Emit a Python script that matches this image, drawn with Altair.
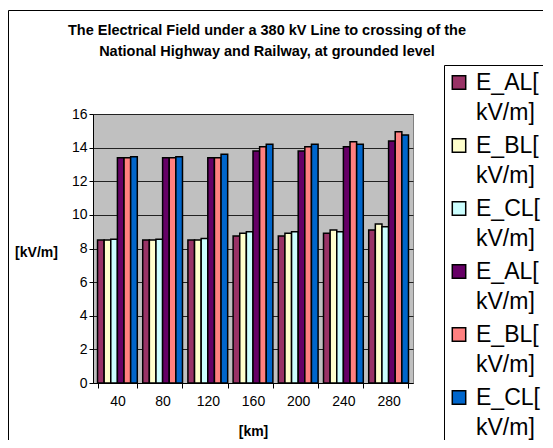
import altair as alt
import pandas as pd

# ---- data ----
km = ["40", "80", "120", "160", "200", "240", "280"]
series_keys = ["s1", "s2", "s3", "s4", "s5", "s6"]
series_labels = ["E_AL[\nkV/m]", "E_BL[\nkV/m]", "E_CL[\nkV/m]",
                 "E_AL[\nkV/m]", "E_BL[\nkV/m]", "E_CL[\nkV/m]"]
series_colors = ["#993366", "#FFFFCC", "#CCFFFF", "#660066", "#FF8080", "#0066CC"]

E_AL_1 = [8.5, 8.5, 8.5, 8.75, 8.75, 8.9, 9.1]
E_BL_1 = [8.5, 8.5, 8.5, 8.9, 8.9, 9.1, 9.45]
E_CL_1 = [8.55, 8.55, 8.6, 9.0, 9.0, 9.0, 9.3]
E_AL_2 = [13.4, 13.4, 13.4, 13.8, 13.8, 14.05, 14.4]
E_BL_2 = [13.4, 13.4, 13.4, 14.05, 14.05, 14.35, 14.95]
E_CL_2 = [13.45, 13.45, 13.6, 14.2, 14.2, 14.2, 14.75]
y_ticks = [0, 2, 4, 6, 8, 10, 12, 14, 16]
title_text = ("The Electrical Field under a 380 kV Line to crossing of the\n"
              "National Highway and Railway, at grounded level")

all_series = [E_AL_1, E_BL_1, E_CL_1, E_AL_2, E_BL_2, E_CL_2]
rows = []
for key, vals in zip(series_keys, all_series):
    for k, v in zip(km, vals):
        rows.append({"km": k, "key": key, "value": v})
df = pd.DataFrame(rows)
legend_df = pd.DataFrame({"key": series_keys, "label": series_labels})
one = pd.DataFrame({"a": [0]})
title_df = pd.DataFrame({"t": [title_text]})

color_scale = alt.Scale(domain=series_keys, range=series_colors)

frame = alt.Chart(one).mark_rect(fill="transparent", stroke="black", strokeWidth=1).encode(
    x=alt.value(-84.5), x2=alt.value(520), y=alt.value(-103.5), y2=alt.value(400)
)

title = alt.Chart(title_df).mark_text(
    align="center", baseline="middle", lineBreak="\n", lineHeight=21,
    fontSize=14.5, fontWeight="bold", font="Liberation Sans", color="black"
).encode(x=alt.value(174), y=alt.value(-83), text="t:N")

bars = alt.Chart(df).mark_bar(stroke="black", strokeWidth=1.5).encode(
    x=alt.X("km:N", sort=km,
            scale=alt.Scale(paddingInner=0.12, paddingOuter=0.1),
            axis=alt.Axis(title="[km]", labelAngle=0, tickBand="extent", tickSize=5,
                          labelPadding=6, titleX=160, titleY=48,
                          titleBaseline="middle", titleFontSize=14, titleFontWeight="bold")),
    xOffset=alt.XOffset("key:N", sort=series_keys,
                        scale=alt.Scale(paddingInner=0, paddingOuter=0)),
    y=alt.Y("value:Q", scale=alt.Scale(domain=[0, 16], nice=False),
            axis=alt.Axis(title="[kV/m]", values=y_ticks, tickSize=4, labelPadding=2,
                          titleAngle=0, titleX=-57, titleY=138, titleAlign="center",
                          titleBaseline="middle", titleFontSize=14, titleFontWeight="bold",
                          grid=True, gridColor="#222222", gridWidth=1)),
    color=alt.Color("key:N", scale=color_scale, legend=None),
)

legend_box = alt.Chart(one).mark_rect(fill="white", stroke="black", strokeWidth=1).encode(
    x=alt.value(351.5), x2=alt.value(480), y=alt.value(-48.5), y2=alt.value(400)
)

legend_y = alt.Y("key:N", sort=series_keys, axis=None,
                 scale=alt.Scale(range=[-31.5, 283.5], padding=0))

legend_sym = alt.Chart(legend_df).mark_square(size=180, stroke="black", strokeWidth=1.5,
                                              opacity=1).encode(
    x=alt.value(366), y=legend_y,
    color=alt.Color("key:N", scale=color_scale, legend=None),
)

legend_txt = alt.Chart(legend_df).mark_text(
    align="left", baseline="middle", lineBreak="\n", lineHeight=30,
    fontSize=23, font="Liberation Sans", color="black"
).encode(
    x=alt.value(383), y=legend_y, text="label:N"
)

chart = alt.layer(frame, title, bars, legend_box, legend_sym, legend_txt).resolve_scale(
    y="independent"
).properties(
    width=320, height=269,
    autosize=alt.AutoSizeParams(type="none"),
    padding={"left": 85, "top": 106, "right": 130, "bottom": 57},
).configure(
    font="Liberation Sans"
).configure_view(
    fill="#C0C0C0", stroke="#808080", strokeWidth=1
).configure_axis(
    labelFont="Liberation Sans", labelFontSize=14, labelColor="black",
    titleFont="Liberation Sans", titleColor="black",
    domainColor="black", tickColor="black", domainWidth=1
)

chart.save("out.html", embed_options={"renderer": "svg", "actions": False})
